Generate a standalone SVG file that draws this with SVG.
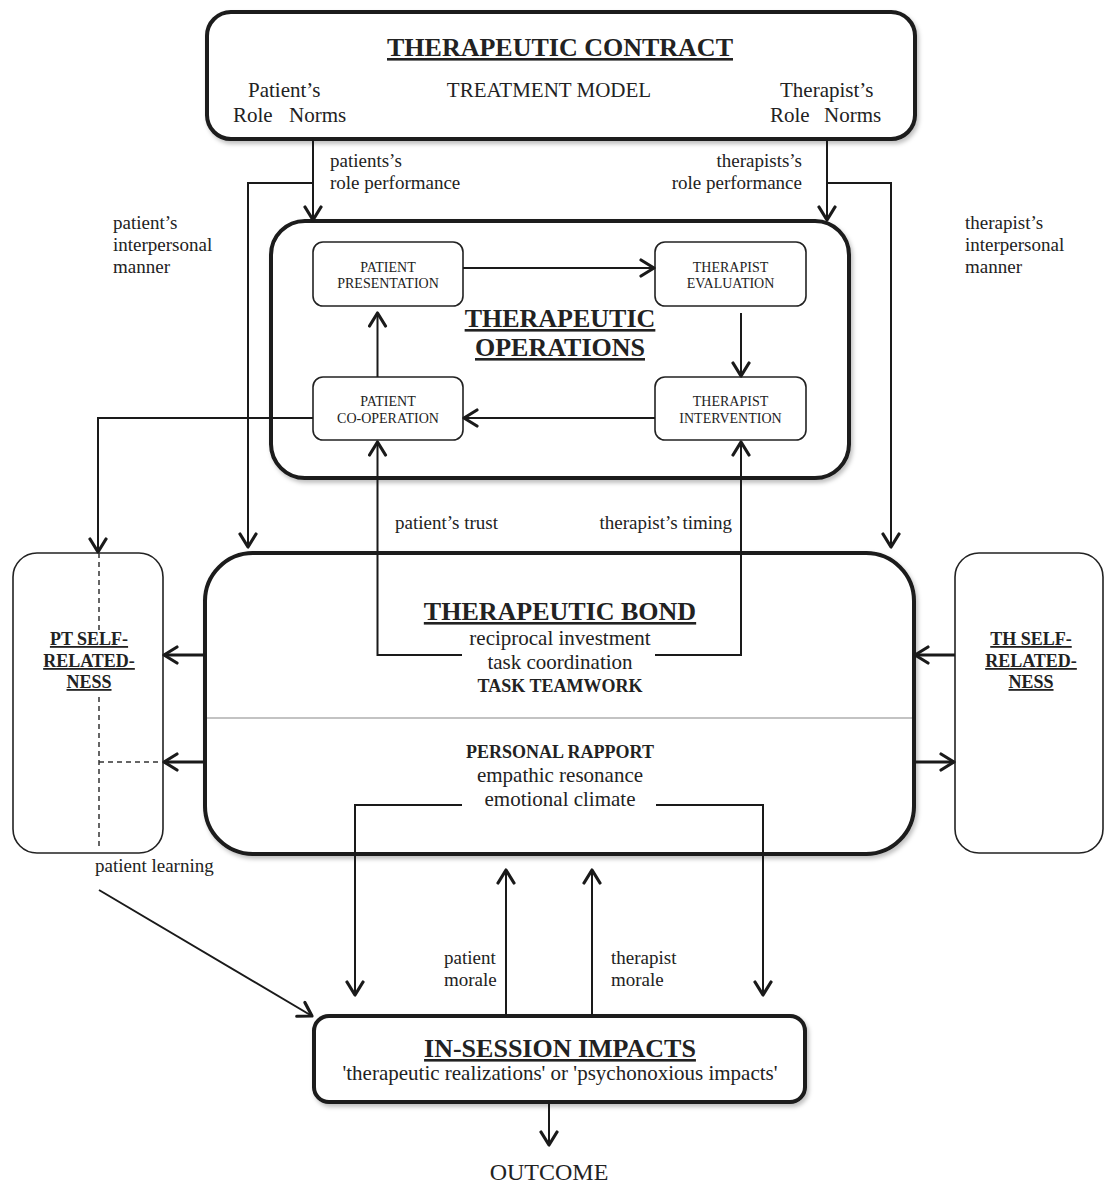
<svg xmlns="http://www.w3.org/2000/svg" width="1104" height="1183" viewBox="0 0 1104 1183">
<defs>
<style>
text{font-family:"Liberation Serif","Times New Roman",serif;fill:#222}
.t{font-size:26px;font-weight:bold;text-decoration:underline}
.b{font-size:21px}
.l{font-size:19px}
.s{font-size:14px}
.bs{font-size:18px;font-weight:bold}
.u{text-decoration:underline}
.m{text-anchor:middle}
.e{text-anchor:end}
.big{fill:#fff;stroke:#1a1a1a;stroke-width:4}
.sm{fill:#fff;stroke:#222;stroke-width:1.6}
.side{fill:#fff;stroke:#222;stroke-width:1.6}
.c{fill:none;stroke:#1a1a1a;stroke-width:2;marker-end:url(#ah)}
.cn{fill:none;stroke:#1a1a1a;stroke-width:2}
.ct{fill:none;stroke:#1a1a1a;stroke-width:3;marker-end:url(#ah)}
.d{fill:none;stroke:#333;stroke-width:1.5;stroke-dasharray:5 4}
</style>
<marker id="ah" viewBox="0 0 18 20" refX="15" refY="10" markerWidth="18" markerHeight="20" markerUnits="userSpaceOnUse" orient="auto">
<path d="M2,2 L15,10 L2,18" fill="none" stroke="#1a1a1a" stroke-width="3.2" stroke-linecap="round" stroke-linejoin="round"/>
</marker>
<filter id="sh" x="-10%" y="-10%" width="120%" height="130%">
<feDropShadow dx="2" dy="3" stdDeviation="2" flood-color="#000" flood-opacity="0.25"/>
</filter>
</defs>

<g id="contract">
<rect class="big" x="207" y="12" width="708" height="127" rx="24" filter="url(#sh)"/>
<text class="t m" x="560" y="56">THERAPEUTIC CONTRACT</text>
<text class="b" x="248" y="97">Patient’s</text>
<text class="b" x="233" y="122">Role</text>
<text class="b" x="289" y="122">Norms</text>
<text class="b m" x="549" y="97">TREATMENT MODEL</text>
<text class="b" x="780" y="97">Therapist’s</text>
<text class="b" x="770" y="122">Role</text>
<text class="b" x="824" y="122">Norms</text>
</g>

<g id="labels-top">
<text class="l" x="330" y="167">patients’s</text>
<text class="l" x="330" y="189">role performance</text>
<text class="l e" x="802" y="167">therapists’s</text>
<text class="l e" x="802" y="189">role performance</text>
<text class="l" x="113" y="229">patient’s</text>
<text class="l" x="113" y="251">interpersonal</text>
<text class="l" x="113" y="273">manner</text>
<text class="l" x="965" y="229">therapist’s</text>
<text class="l" x="965" y="251">interpersonal</text>
<text class="l" x="965" y="273">manner</text>
</g>

<g id="operations">
<rect class="big" x="271" y="221" width="578" height="257" rx="34" filter="url(#sh)"/>
<text class="t m" x="560" y="327">THERAPEUTIC</text>
<text class="t m" x="560" y="356">OPERATIONS</text>
</g>

<g id="patient-presentation">
<rect class="sm" x="313" y="242" width="150" height="64" rx="10"/>
<text class="s m" x="388" y="272">PATIENT</text>
<text class="s m" x="388" y="288">PRESENTATION</text>
</g>
<g id="therapist-evaluation">
<rect class="sm" x="655" y="242" width="151" height="64" rx="10"/>
<text class="s m" x="730.5" y="272">THERAPIST</text>
<text class="s m" x="730.5" y="288">EVALUATION</text>
</g>
<g id="patient-cooperation">
<rect class="sm" x="313" y="377" width="150" height="63" rx="10"/>
<text class="s m" x="388" y="406">PATIENT</text>
<text class="s m" x="388" y="423">CO-OPERATION</text>
</g>
<g id="therapist-intervention">
<rect class="sm" x="655" y="377" width="151" height="63" rx="10"/>
<text class="s m" x="730.5" y="406">THERAPIST</text>
<text class="s m" x="730.5" y="423">INTERVENTION</text>
</g>

<g id="mid-labels">
<text class="l" x="395" y="529">patient’s trust</text>
<text class="l e" x="732" y="529">therapist’s timing</text>
</g>

<g id="pt-self">
<rect class="side" x="13" y="553" width="150" height="300" rx="24"/>
<text class="bs m u" x="89" y="645">PT SELF-</text>
<text class="bs m u" x="89" y="667">RELATED-</text>
<text class="bs m u" x="89" y="688">NESS</text>
</g>

<g id="th-self">
<rect class="side" x="955" y="553" width="148" height="300" rx="24"/>
<text class="bs m u" x="1031" y="645">TH SELF-</text>
<text class="bs m u" x="1031" y="667">RELATED-</text>
<text class="bs m u" x="1031" y="688">NESS</text>
</g>

<g id="bond">
<rect class="big" x="205" y="553" width="709" height="301" rx="48" filter="url(#sh)"/>
<line x1="207" y1="718" x2="912" y2="718" stroke="#888" stroke-width="1.2"/>
<text class="t m" x="560" y="620">THERAPEUTIC BOND</text>
<text class="b m" x="560" y="645">reciprocal investment</text>
<text class="b m" x="560" y="669">task coordination</text>
<text class="bs m" x="560" y="692">TASK TEAMWORK</text>
<text class="bs m" x="560" y="758">PERSONAL RAPPORT</text>
<text class="b m" x="560" y="782">empathic resonance</text>
<text class="b m" x="560" y="806">emotional climate</text>
</g>

<g id="bottom-labels">
<text class="l" x="95" y="872">patient learning</text>
<text class="l" x="444" y="964">patient</text>
<text class="l" x="444" y="986">morale</text>
<text class="l" x="611" y="964">therapist</text>
<text class="l" x="611" y="986">morale</text>
</g>

<g id="impacts">
<rect class="big" x="314" y="1016" width="491" height="86" rx="15" filter="url(#sh)"/>
<text class="t m" x="560" y="1057">IN-SESSION IMPACTS</text>
<text class="b m" x="560" y="1080">'therapeutic realizations' or 'psychonoxious impacts'</text>
</g>

<g id="outcome">
<text class="m" x="549" y="1180" style="font-size:24px">OUTCOME</text>
</g>

<g id="connectors">
<path class="c" d="M313,139 V220"/>
<path class="c" d="M827,139 V220"/>
<path class="c" d="M313,183 H248 V547"/>
<path class="c" d="M827,183 H891 V547"/>
<path class="c" d="M313,418 H98 V552"/>
<path class="c" d="M463,268 H654"/>
<path class="c" d="M741,313 V376"/>
<path class="c" d="M655,418 H464"/>
<path class="c" d="M377.5,377 V313"/>
<path class="c" d="M462,655 H377.5 V442"/>
<path class="c" d="M655,655 H741 V442"/>
<path class="ct" d="M205,655 H164"/>
<path class="ct" d="M205,762 H164"/>
<path class="ct" d="M955,655 H915"/>
<path class="ct" d="M914,762 H954"/>
<path class="d" d="M99,553 V632 M99,697 V846 M99,762 H160"/>
<path class="c" d="M462,805 H355 V995"/>
<path class="c" d="M656,805 H763 V995"/>
<path class="c" d="M506,1015 V870"/>
<path class="c" d="M592,1015 V870"/>
<path class="c" d="M99,890 L312,1016"/>
<path class="c" d="M549,1102 V1145"/>
</g>
</svg>
